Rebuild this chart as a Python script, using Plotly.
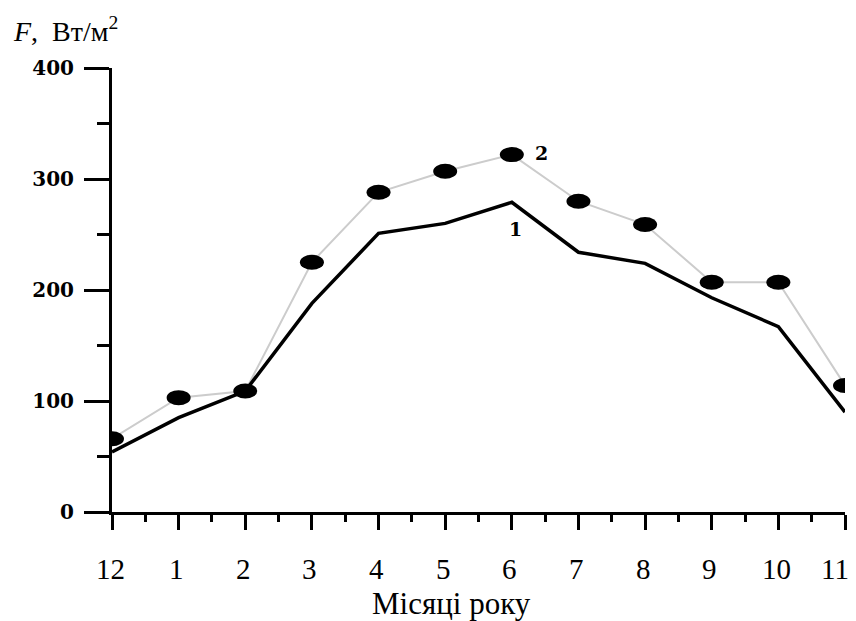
import plotly.graph_objects as go

# ---- data ----
months = ["12", "1", "2", "3", "4", "5", "6", "7", "8", "9", "10", "11"]
series1 = [54, 85, 109, 188, 251, 260, 279, 234, 224, 193, 167, 90]
series2 = [66, 103, 109, 225, 288, 307, 322, 280, 259, 207, 207, 114]
series_labels = ["1", "2"]
label_pos_x = [6.06, 6.44]
label_pos_y = [255, 323]
y_ticks = [0, 100, 200, 300, 400]
x_title = "Місяці року"
y_title = "<i>F</i>,&nbsp;&nbsp;Вт/м<sup>2</sup>"

xpos = list(range(len(months)))

# plot-area geometry (pixels)
L, R, T, B = 112, 11, 68, 109
W, H = 856, 621
PW, PH = W - L - R, H - T - B


def px_to_paper_x(px):
    return (px - L) / PW


def py_to_paper_y(py):
    return (H - B - py) / PH


fig = go.Figure()

fig.add_trace(go.Scatter(
    x=xpos, y=series2, mode="lines",
    line=dict(color="#cccccc", width=2),
    showlegend=False, cliponaxis=False,
))
fig.add_trace(go.Scatter(
    x=xpos, y=series1, mode="lines",
    line=dict(color="black", width=3.5),
    showlegend=False, cliponaxis=False,
))

# ellipse markers for series 2, anchored to the data values
shapes = []
for xv, yv in zip(xpos, series2):
    shapes.append(dict(
        type="circle", xref="x", yref="y",
        xsizemode="pixel", ysizemode="pixel",
        xanchor=xv, yanchor=yv,
        x0=-12, x1=12, y0=-7.5, y1=7.5,
        fillcolor="black", line=dict(color="black", width=0),
        layer="above",
    ))

annotations = []
for lab, lx, ly in zip(series_labels, label_pos_x, label_pos_y):
    annotations.append(dict(
        x=lx, y=ly, xref="x", yref="y", text="<b>%s</b>" % lab,
        showarrow=False, font=dict(family="DejaVu Serif", size=19, color="black"),
    ))

# month labels placed under the ticks of the x axis (the last one kept inside the page)
for i, (xv, m) in enumerate(zip(xpos, months)):
    annotations.append(dict(
        x=xv, y=py_to_paper_y(569), xref="x", yref="paper",
        xanchor="center", yanchor="middle",
        xshift=-10 if i == len(months) - 1 else -2,
        text=m, showarrow=False,
        font=dict(family="Liberation Serif", size=29, color="black"),
    ))

annotations.append(dict(
    x=px_to_paper_x(11), y=py_to_paper_y(30), xref="paper", yref="paper",
    xanchor="left", yanchor="middle",
    text=y_title, showarrow=False,
    font=dict(family="Liberation Serif", size=28, color="black"),
))

annotations.append(dict(
    x=px_to_paper_x(451), y=py_to_paper_y(603), xref="paper", yref="paper",
    xanchor="center", yanchor="middle",
    text=x_title, showarrow=False,
    font=dict(family="Liberation Serif", size=31, color="black"),
))

fig.update_layout(
    width=W, height=H,
    margin=dict(l=L, r=R, t=T, b=B, autoexpand=False),
    paper_bgcolor="white", plot_bgcolor="white",
    shapes=shapes, annotations=annotations,
    showlegend=False,
)

fig.update_xaxes(
    range=[0, 11], tickmode="array", tickvals=xpos, showticklabels=False,
    showgrid=False, zeroline=False, automargin=False,
    showline=True, linecolor="black", linewidth=3,
    ticks="outside", ticklen=15, tickwidth=3, tickcolor="black",
    minor=dict(ticks="outside", ticklen=7, tickwidth=3, tickcolor="black",
               dtick=0.5, tick0=0, showgrid=False),
)

fig.update_yaxes(
    range=[0, 400], tickmode="array", tickvals=y_ticks,
    ticktext=["<b>%d</b>" % v for v in y_ticks],
    showgrid=False, zeroline=False, automargin=False,
    showline=True, linecolor="black", linewidth=3,
    ticks="outside", ticklen=25, tickwidth=3, tickcolor="black",
    tickfont=dict(family="DejaVu Serif", size=20, color="black"),
    ticklabelstandoff=6, ticklabeloverflow="allow",
    minor=dict(ticks="outside", ticklen=12, tickwidth=3, tickcolor="black",
               dtick=50, tick0=0, showgrid=False),
)

fig.write_html("out.html")
